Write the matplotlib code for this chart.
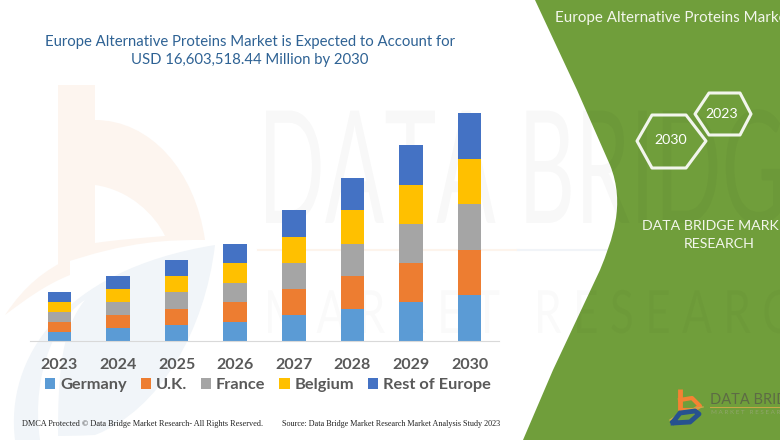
import matplotlib.pyplot as plt
from matplotlib.patches import PathPatch, Polygon
from matplotlib.path import Path
from matplotlib.patheffects import AbstractPathEffect
from matplotlib.transforms import Affine2D

years = ["2023", "2024", "2025", "2026", "2027", "2028", "2029", "2030"]
# values in USD million x 1e6
germany = [0.68, 0.92, 1.14, 1.41, 1.87, 2.35, 2.84, 3.33]
uk = [0.71, 0.97, 1.22, 1.43, 1.91, 2.35, 2.84, 3.30]
france = [0.73, 0.95, 1.19, 1.38, 1.87, 2.38, 2.84, 3.35]
belgium = [0.73, 0.95, 1.16, 1.43, 1.91, 2.42, 2.84, 3.30]
rest = [0.71, 0.92, 1.19, 1.43, 1.94, 2.33, 2.89, 3.33]
series_names = ["Germany", "U.K.", "France", "Belgium", "Rest of Europe"]
series_values = [germany, uk, france, belgium, rest]
series_colors = ["#5b9bd5", "#ed7d31", "#a5a5a5", "#ffc000", "#4472c4"]

plt.rcParams['font.family'] = ['Lato', 'DejaVu Sans']


class Squeeze(AbstractPathEffect):
    """Narrow a text horizontally around its left edge."""

    def __init__(self, sx, x0):
        super().__init__()
        self.sx = sx
        self.x0 = x0

    def draw_path(self, renderer, gc, tpath, affine, rgbFace=None):
        squeeze = Affine2D().translate(-self.x0, 0).scale(self.sx, 1).translate(self.x0, 0)
        renderer.draw_path(gc, tpath, affine + squeeze, rgbFace)


def blob(points, **kwargs):
    # first point is the start, then groups of three bezier points
    codes = [Path.MOVETO] + [Path.CURVE4] * (len(points) - 1)
    return PathPatch(Path(points, codes), edgecolor="none", **kwargs)


fig = plt.figure(figsize=(7.8, 4.4), dpi=100)

# background layer in pixel coordinates
bg = fig.add_axes([0, 0, 1, 1], zorder=0)
bg.set_xlim(0, 780)
bg.set_ylim(440, 0)
bg.axis("off")

# faint logo watermark
wm_orange = "#fdf5ef"
wm_blue = "#f1f5f9"
bg.add_patch(blob([(58, 85), (70, 85), (85, 85), (95, 85), (95, 95), (95, 105), (95, 120),
                   (150, 120), (195, 170), (205, 240), (170, 240), (130, 240), (58, 265),
                   (58, 200), (58, 140), (58, 85)], facecolor=wm_orange))
bg.add_patch(blob([(95, 185), (130, 190), (155, 215), (165, 236), (140, 238), (115, 240), (95, 243),
                   (95, 225), (95, 205), (95, 185)], facecolor="white"))
bg.add_patch(blob([(5, 315), (25, 285), (45, 270), (70, 258), (70, 265), (70, 270), (70, 275),
                   (45, 285), (25, 300), (5, 315)], facecolor=wm_orange))
bg.add_patch(blob([(15, 440), (5, 360), (60, 270), (215, 245), (205, 330), (160, 410), (95, 435),
                   (75, 436), (60, 436), (58, 436), (58, 380), (60, 330), (85, 300),
                   (60, 315), (30, 370), (40, 440), (30, 440), (20, 440), (15, 440)],
                  facecolor=wm_blue))
bg.plot([258, 518], [250, 250], color="#fdf4ec", lw=1.5)
bg.plot([518, 610], [250, 250], color="#f1f4f8", lw=1.5)

# green side panel
verts = [(535, 0), (780, 0), (780, 440), (523, 440), (553, 370), (600, 270),
         (612, 240), (626, 205), (610, 165), (577, 90), (535, 0)]
codes = [Path.MOVETO, Path.LINETO, Path.LINETO, Path.LINETO, Path.LINETO, Path.LINETO,
         Path.CURVE4, Path.CURVE4, Path.CURVE4, Path.LINETO, Path.CLOSEPOLY]
bg.add_patch(PathPatch(Path(verts, codes), facecolor="#709e3b", edgecolor="none", zorder=3))

# big lettering watermark, it also shows faintly on the green panel
bg.text(258, 223, "DATA BRIDGE", fontsize=113, color="black", alpha=0.028, ha="left",
        va="baseline", zorder=3.5, path_effects=[Squeeze(0.56, 258)])
bg.text(264, 333, "M A R K E T   R E S E A R C H", fontsize=43, color="black", alpha=0.018,
        ha="left", va="baseline", zorder=3.5, path_effects=[Squeeze(0.74, 264)])

# hexagons
hex_big = [(637, 141), (652, 115), (686, 115), (706, 141), (686, 168), (652, 168)]
hex_small = [(695, 114), (709, 93), (740, 93), (751, 114), (740, 135), (709, 135)]
for pts in (hex_big, hex_small):
    bg.add_patch(Polygon(pts, closed=True, fill=False, edgecolor="#f2f5ec", lw=2.2,
                         joinstyle="round", zorder=4))
bg.text(671, 140, "2030", color="white", fontsize=10.2, ha="center", va="center", zorder=5)
bg.text(722, 114, "2023", color="white", fontsize=10.2, ha="center", va="center", zorder=5)

bg.text(555, 18, "Europe Alternative Proteins Market", color="#f3f6ec", fontsize=10.9,
        ha="left", va="center", zorder=5)
bg.text(719, 235, "DATA BRIDGE MARKET\nRESEARCH", color="#f3f6ec", fontsize=10.2,
        ha="center", va="center", linespacing=1.5, zorder=5)

# small logo, bottom right
bg.plot([680, 680], [389, 410], color="#f58233", lw=3.5, solid_capstyle="butt", zorder=5)
bg.plot([680, 692, 700, 694, 682], [400, 398, 406, 410, 410], color="#f58233", lw=3, zorder=5)
bg.plot([670, 685, 703], [420, 410, 407], color="#c9a94a", lw=1, zorder=5)
bg.plot([673, 680, 695, 699, 690, 673], [422, 413, 411, 414, 422, 423], color="#27528f", lw=3.5, zorder=5)
bg.text(710, 400, "DATA BRIDGE", color="#5d6b45", fontsize=10.5, ha="left", va="center", zorder=5)
bg.plot([710, 780], [407.5, 407.5], color="#c9a94a", lw=0.7, zorder=5)
bg.text(711, 413, "M A R K E T   R E S E A R C H", color="#8fa56b", fontsize=4.5,
        ha="left", va="center", zorder=5)

# title
bg.text(250, 51, "Europe Alternative Proteins Market is Expected to Account for\n"
        "USD 16,603,518.44 Million by 2030", color="#2e6294", fontsize=10.75,
        ha="center", va="center", linespacing=1.4, zorder=5)

# footer
bg.text(22, 424, "DMCA Protected © Data Bridge Market Research- All Rights Reserved.",
        family="Liberation Serif", fontsize=5.94, color="#222222", va="center", zorder=5)
bg.text(282, 424, "Source: Data Bridge Market Research Market Analysis Study 2023",
        family="Liberation Serif", fontsize=5.87, color="#222222", va="center", zorder=5)

# stacked bars
ax = fig.add_axes([30 / 780, 1 - 341 / 440, 469 / 780, 241 / 440], zorder=2)
ax.patch.set_alpha(0)
bottom = [0] * len(years)
for name, values, color in zip(series_names, series_values, series_colors):
    ax.bar(years, values, width=0.4, bottom=bottom, color=color, label=name)
    bottom = [b + v for b, v in zip(bottom, values)]

ax.set_xlim(-0.5, 7.5)
ax.set_ylim(0, 17.54)
ax.set_yticks([])
for side in ("top", "left", "right"):
    ax.spines[side].set_visible(False)
ax.spines["bottom"].set_color("#d9d9d9")
ax.tick_params(axis="x", length=0, pad=12.5, labelsize=11.5, labelcolor="#595959")
for label in ax.get_xticklabels():
    label.set_fontweight("bold")

leg = ax.legend(loc="upper left", bbox_to_anchor=(0.032, -0.155), ncol=5, frameon=False,
                handlelength=0.62, handleheight=0.62, handletextpad=0.3, columnspacing=0.85,
                borderpad=0, borderaxespad=0, prop={"size": 11.8, "weight": "bold"},
                labelcolor="#595959")

fig.savefig("out.png", dpi=100)
